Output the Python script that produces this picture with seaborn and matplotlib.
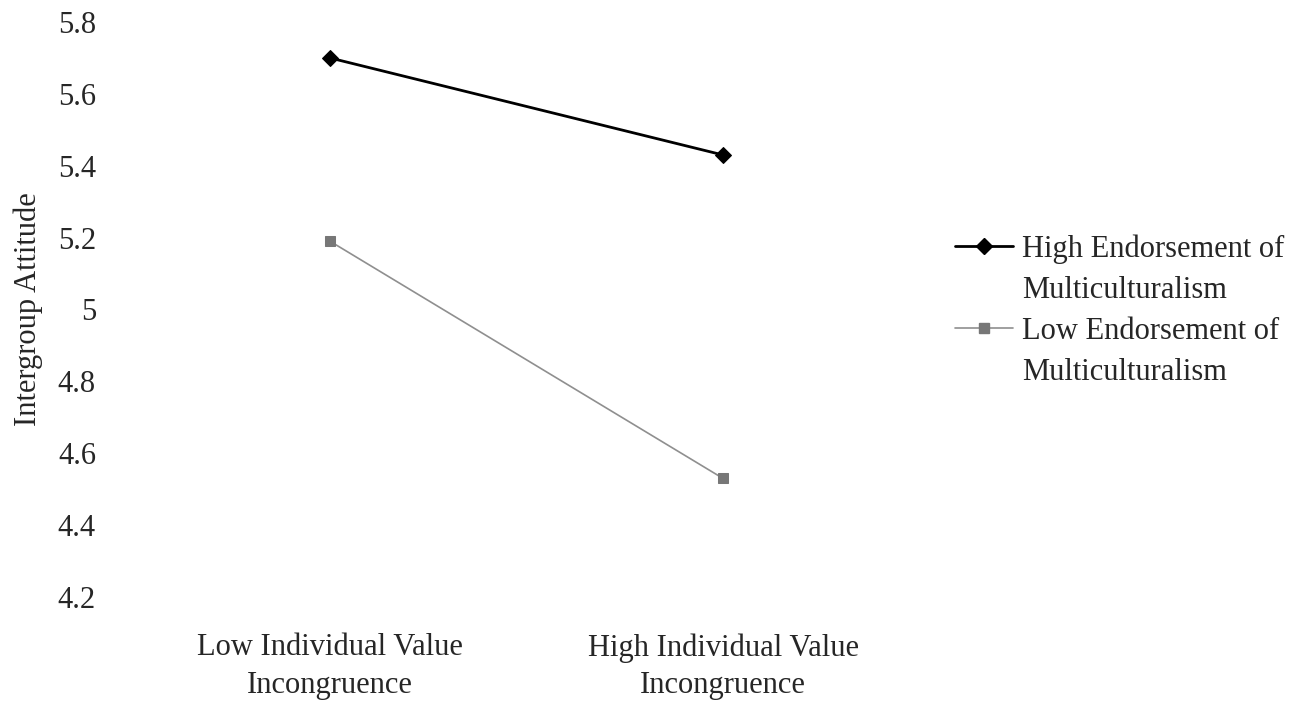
import numpy as np
import pandas as pd
import matplotlib
matplotlib.use("Agg")
import matplotlib.pyplot as plt
from matplotlib.lines import Line2D
import seaborn as sns

# Data
conditions = ["Low Individual Value\nIncongruence", "High Individual Value\nIncongruence"]
high_endorsement = [5.70, 5.43]
low_endorsement = [5.19, 4.53]
series_labels = [("High Endorsement of", "Multiculturalism"), ("Low Endorsement of", "Multiculturalism")]
y_ticks = [4.2, 4.4, 4.6, 4.8, 5.0, 5.2, 5.4, 5.6, 5.8]
y_tick_labels = ["4.2", "4.4", "4.6", "4.8", "5", "5.2", "5.4", "5.6", "5.8"]

df_high = pd.DataFrame({"cond": conditions, "val": high_endorsement})
df_low = pd.DataFrame({"cond": conditions, "val": low_endorsement})

sns.set_style("white")
plt.rcParams["font.family"] = ["Liberation Serif", "DejaVu Serif"]

fig = plt.figure(figsize=(13.13, 7.04), dpi=100)
ax = fig.add_axes([133.5 / 1313, 1 - 597 / 704, 786 / 1313, 575 / 704])

high_style = dict(color="black", lw=2.0, marker="D", markersize=8,
                  markeredgecolor="black", markerfacecolor="black")
low_style = dict(color="#8f8f8f", lw=1.2, marker="s", markersize=7,
                 markeredgecolor="#777777", markerfacecolor="#777777")

sns.lineplot(data=df_high, x="cond", y="val", ax=ax, legend=False, **high_style)
sns.lineplot(data=df_low, x="cond", y="val", ax=ax, legend=False, **low_style)

ax.set_xlim(-0.5, 1.5)
ax.set_ylim(4.2, 5.8)
ax.set_yticks(y_ticks)
ax.set_yticklabels(y_tick_labels, fontsize=22)
ax.tick_params(axis="y", pad=27, length=0)
ax.tick_params(axis="x", pad=26, length=0, labelsize=22)
for lbl in ax.get_xticklabels():
    lbl.set_linespacing(1.4)
ax.set_xlabel("")
ax.set_ylabel("Intergroup Attitude", fontsize=22)
ax.yaxis.set_label_coords(-0.115, 0.5)
for s in ax.spines.values():
    s.set_visible(False)

# legend: marker aligned with first line of each wrapped label
blank = Line2D([], [], color="none")
handles = [Line2D([], [], **high_style), blank, Line2D([], [], **low_style), blank]
labels = [series_labels[0][0], series_labels[0][1], series_labels[1][0], series_labels[1][1]]
leg = ax.legend(handles, labels, loc="upper left", bbox_to_anchor=(1.045, 0.631), frameon=False,
                fontsize=22, handlelength=1.9, handletextpad=0.3, labelspacing=0.4,
                borderaxespad=0, borderpad=0)

fig.savefig("out.png", dpi=100)
